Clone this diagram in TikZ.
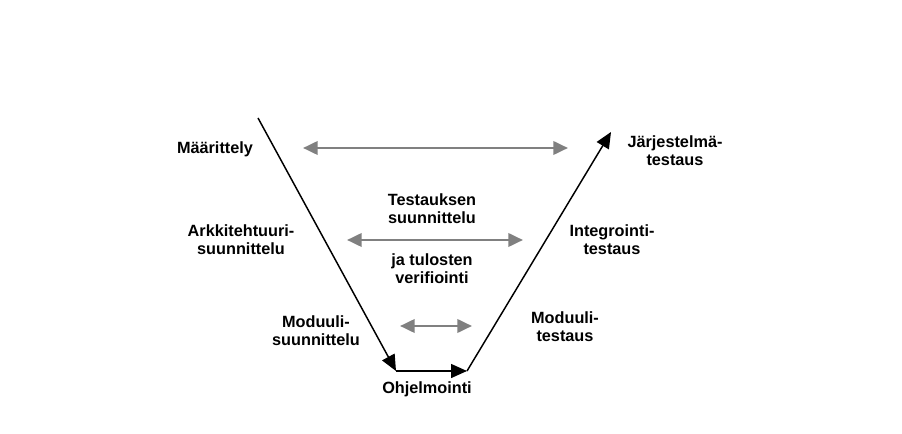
\documentclass[tikz,border=0pt]{standalone}
\usepackage{fontspec}
\setmainfont{Liberation Sans}
\usetikzlibrary{arrows.meta, positioning}

\begin{document}
\begin{tikzpicture}[x=0.75pt, y=-0.75pt, font=\fontsize{12.2}{13.5}\selectfont\bfseries]
			\useasboundingbox (0,0) rectangle (902,434);
			\tikzset{
				lbl/.style={align=center, inner sep=0pt},
				vline/.style={line width=1.1pt, -{Triangle[length=12pt, width=10.5pt]}},
				pair/.style={line width=2pt, black!50, {Triangle[length=11pt, width=10pt]}-{Triangle[length=11pt, width=10pt]}}
			}
			% corners of the V
			\coordinate (spec)    at (258, 118);
			\coordinate (prog)    at (396, 371);
			\coordinate (impl)    at (467, 371);
			\coordinate (systest) at (611, 132);
			\draw [vline] (spec) -- (prog);
			\draw [vline] (prog) -- (impl);
			\draw [vline] (impl) -- (systest);
			% labels
			\node[lbl] (maar)  at (215, 149) {Määrittely};
			\node[lbl] (arkk)  at (241, 240) {Arkkitehtuuri-\\suunnittelu};
			\node[lbl] (modsu) at (316, 331) {Moduuli-\\suunnittelu};
			\node[lbl] (ohj)   at (427, 389) {Ohjelmointi};
			\node[lbl] (modte) at (565, 327) {Moduuli-\\testaus};
			\node[lbl] (integ) at (612, 240) {Integrointi-\\testaus};
			\node[lbl] (jarj)  at (675, 151) {Järjestelmä-\\testaus};
			\node[lbl] (tsuun) at (432, 209) {Testauksen\\suunnittelu};
			\node[lbl] (verif) at (432, 269) {ja tulosten\\verifiointi};
			% test levels
			\coordinate (a1) at (303, 148); \coordinate (b1) at (568, 148);
			\coordinate (a2) at (347, 240); \coordinate (b2) at (523, 240);
			\coordinate (a3) at (400, 326); \coordinate (b3) at (472, 326);
			\draw [pair] (a1) -- (b1);
			\draw [pair] (a2) -- (b2);
			\draw [pair] (a3) -- (b3);
		\end{tikzpicture}
\end{document}
